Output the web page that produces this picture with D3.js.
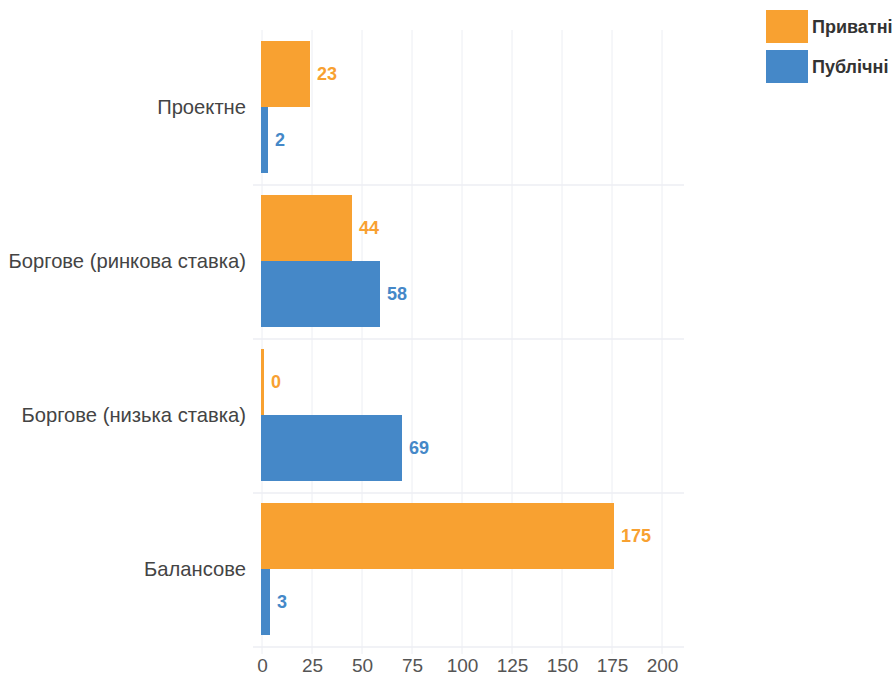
<!DOCTYPE html>
<html>
<head>
<meta charset="utf-8">
<script src="https://cdn.jsdelivr.net/npm/d3@7"></script>
<style>
  body { margin: 0; background: #fff; }
  svg { display: block; font-family: "Liberation Sans", Arial, sans-serif; }
</style>
</head>
<body>
<div id="chart"></div>
<script>
"use strict";

// data
var categories = ["Проектне", "Боргове (ринкова ставка)", "Боргове (низька ставка)", "Балансове"];
var seriesNames = ["Приватні", "Публічні"];
var privateValues = [23, 44, 0, 175];
var publicValues = [2, 58, 69, 3];
var xTicks = [0, 25, 50, 75, 100, 125, 150, 175, 200];
var colors = ["#f8a131", "#4588c8"];

var width = 895, height = 680;

var svg = d3.select("#chart")
            .append("svg")
            .attr("width", width)
            .attr("height", height);

// scales
var x = d3.scaleLinear()
          .domain([0, 200])
          .range([262, 662]);

var y = d3.scaleBand()
          .domain(categories)
          .range([31, 647]);

// bars sit a bit higher than centre in each band
var inner = d3.scaleBand()
              .domain(seriesNames)
              .range([10, y.bandwidth() - 12]);

// grid
svg.append("g")
   .selectAll("line")
   .data(xTicks)
   .enter()
   .append("line")
   .attr("x1", function(d) { return x(d); })
   .attr("x2", function(d) { return x(d); })
   .attr("y1", 30)
   .attr("y2", 654)
   .attr("stroke", "#eceef3")
   .attr("stroke-width", 1);

svg.append("g")
   .selectAll("line")
   .data(categories)
   .enter()
   .append("line")
   .attr("x1", 253)
   .attr("x2", 684)
   .attr("y1", function(d) { return y(d) + y.bandwidth(); })
   .attr("y2", function(d) { return y(d) + y.bandwidth(); })
   .attr("stroke", "#eceef3")
   .attr("stroke-width", 1.5);

// x axis
var xAxis = d3.axisBottom(x)
              .tickValues(xTicks)
              .tickSize(0)
              .tickPadding(11);

var gx = svg.append("g")
            .attr("transform", "translate(0,648)")
            .call(xAxis);
gx.select(".domain").remove();
gx.selectAll("text")
  .attr("fill", "#555")
  .style("font-size", "19px");

// y axis
var yAxis = d3.axisLeft(y)
              .tickSize(0)
              .tickPadding(16);

var gy = svg.append("g")
            .attr("transform", "translate(262,0)")
            .call(yAxis);
gy.select(".domain").remove();
gy.selectAll("text")
  .attr("fill", "#444")
  .style("font-size", "20.2px");

// bars
var rows = categories.map(function(c, i) {
  return { cat: c, values: [privateValues[i], publicValues[i]] };
});

var groups = svg.selectAll(".grp")
                .data(rows)
                .enter()
                .append("g")
                .attr("transform", function(d) { return "translate(0," + y(d.cat) + ")"; });

groups.selectAll("rect")
      .data(function(d) { return d.values; })
      .enter()
      .append("rect")
      .attr("x", x(0) - 1)
      .attr("y", function(d, i) { return inner(seriesNames[i]); })
      .attr("width", function(d) { return x(d) - x(0) + 3; })
      .attr("height", inner.bandwidth())
      .attr("fill", function(d, i) { return colors[i]; });

groups.selectAll("text")
      .data(function(d) { return d.values; })
      .enter()
      .append("text")
      .attr("x", function(d) { return x(d) + 9; })
      .attr("y", function(d, i) { return inner(seriesNames[i]) + inner.bandwidth() / 2; })
      .attr("dy", "0.36em")
      .attr("fill", function(d, i) { return colors[i]; })
      .style("font-size", "18px")
      .style("font-weight", "bold")
      .text(function(d) { return d; });

// legend
var legend = svg.selectAll(".leg")
                .data(seriesNames)
                .enter()
                .append("g")
                .attr("transform", function(d, i) { return "translate(766," + (10 + i * 40) + ")"; });

legend.append("rect")
      .attr("width", 42)
      .attr("height", 33)
      .attr("fill", function(d, i) { return colors[i]; });

legend.append("text")
      .attr("x", 46)
      .attr("y", 17)
      .attr("dy", "0.36em")
      .attr("fill", "#333")
      .style("font-size", "18px")
      .style("font-weight", "bold")
      .text(function(d) { return d; });
</script>
</body>
</html>
